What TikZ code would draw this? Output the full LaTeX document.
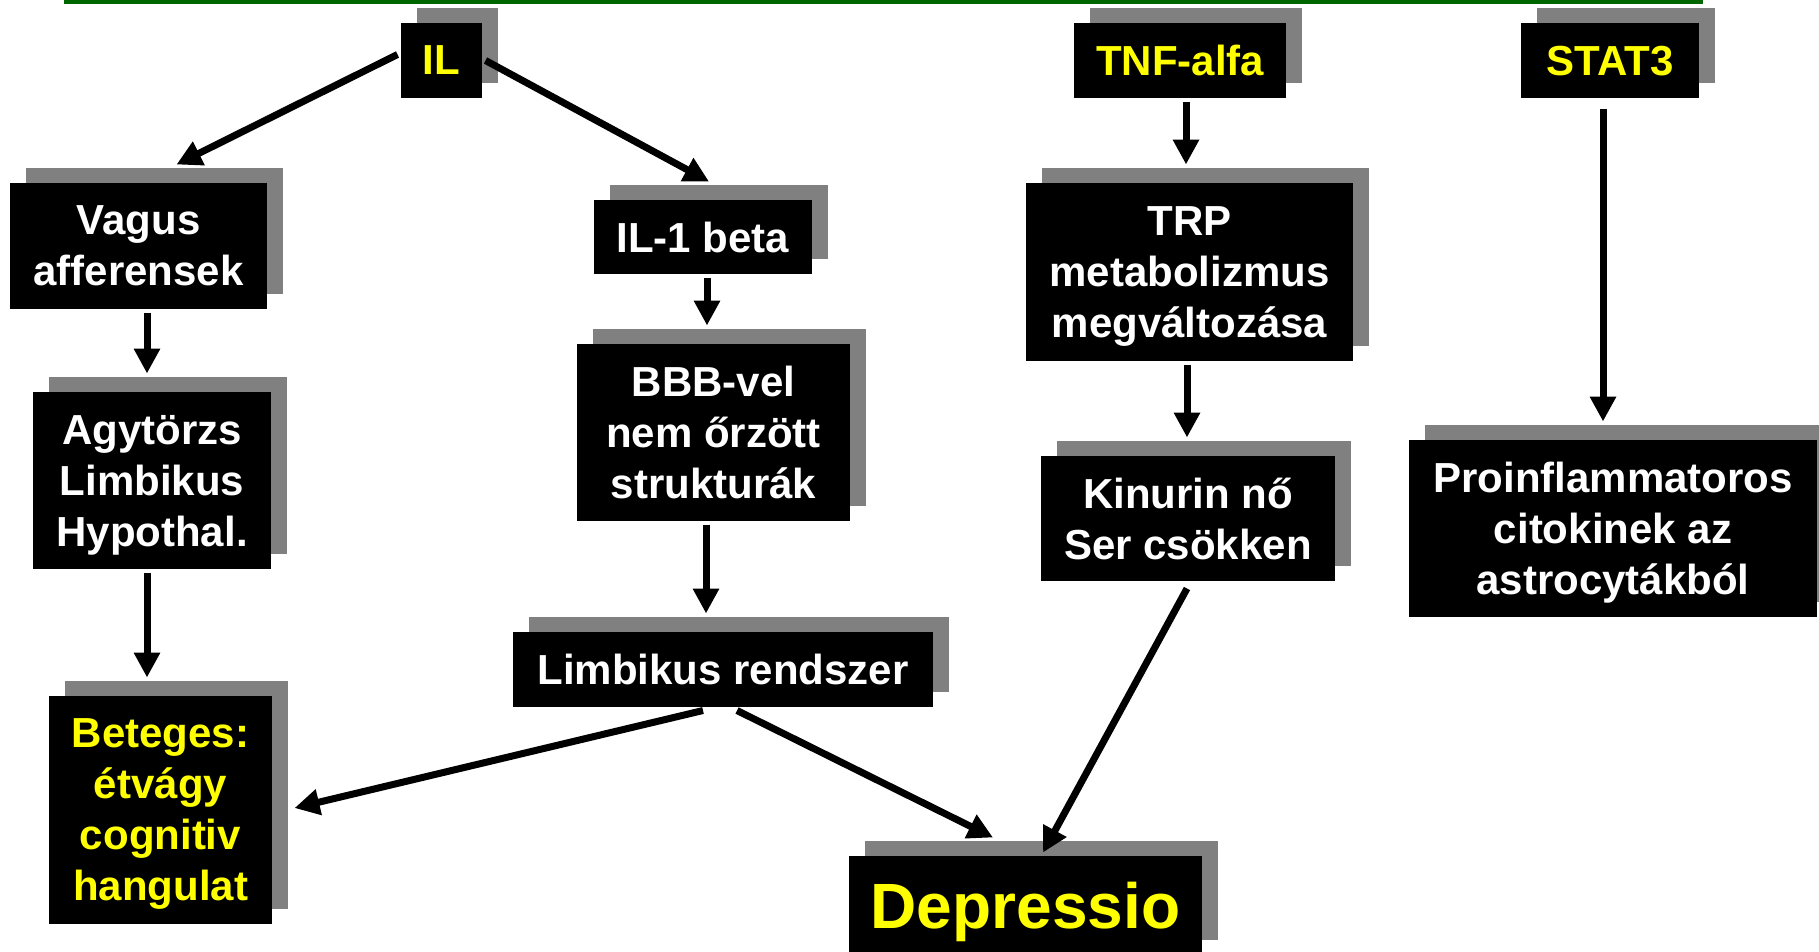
\documentclass[tikz,border=0pt]{standalone}
\usepackage{fontspec}
\setmainfont{Liberation Sans}
\usetikzlibrary{arrows.meta,shadows}
\definecolor{shade}{RGB}{128,128,128}
\definecolor{hilite}{RGB}{255,255,0}
\definecolor{leaf}{RGB}{0,102,0}

\begin{document}
\begin{tikzpicture}[x=1pt,y=-1pt,->,>={Triangle[length=25pt,width=25pt]},
                    line width=7pt]
  \tikzset{box/.style={fill=black,text=white,inner sep=0pt,align=center,text depth=0pt,
             font=\bfseries\fontsize{42}{51}\selectfont,
             drop shadow={shadow xshift=16pt,shadow yshift=15pt,fill=shade,opacity=1}},
           hot/.style={box,text=hilite}}

  \path[use as bounding box,fill=white] (0,0) rectangle (1819,951);
  \draw[-,line width=4.5pt,leaf] (64,2) -- (1703,2);

  \node[hot,minimum width=81pt,minimum height=75pt]   (il)   at (441.5,60.5) {IL};
  \node[hot,minimum width=212pt,minimum height=75pt]  (tnf)  at (1180,60.5)  {TNF-alfa};
  \node[hot,minimum width=178pt,minimum height=75pt]  (stat) at (1610,60.5)  {STAT3};
  \node[box,minimum width=257pt,minimum height=126pt] (vag)  at (138.5,246)  {Vagus\\afferensek};
  \node[box,minimum width=218pt,minimum height=74pt]  (ilb)  at (703,237)    {IL-1 beta};
  \node[box,minimum width=327pt,minimum height=178pt] (trp)  at (1189.5,272) {TRP\\metabolizmus\\megváltozása};
  \node[box,minimum width=238pt,minimum height=177pt] (agy)  at (152,480.5)  {Agytörzs\\Limbikus\\Hypothal.};
  \node[box,minimum width=273pt,minimum height=177pt] (bbb)  at (713.5,432.5) {BBB-vel\\nem őrzött\\strukturák};
  \node[box,minimum width=294pt,minimum height=125pt] (kin)  at (1188,518.5) {Kinurin nő\\Ser csökken};
  \node[box,minimum width=408pt,minimum height=177pt] (pro)  at (1613,528.5) {Proinflammatoros\\citokinek az\\astrocytákból};
  \node[box,minimum width=420pt,minimum height=75pt]  (lim)  at (723,669.5)  {Limbikus rendszer};
  \node[hot,minimum width=223pt,minimum height=228pt] (bet)  at (160.5,810)  {Beteges:\\étvágy\\cognitiv\\hangulat};
  \node[hot,minimum width=353pt,minimum height=99pt,
        font=\bfseries\fontsize{64}{72}\selectfont]   (dep)  at (1025.5,905.5) {Depressio};

  \path ([yshift=6pt]il.west)         edge ([xshift=38pt,yshift=15pt]vag.north)
        (il.east)                     edge ([xshift=6pt,yshift=15pt]ilb.north)
        ([xshift=8.5pt]vag.south)     edge ([xshift=-5pt,yshift=15pt]agy.north)
        ([xshift=-5pt]agy.south)      edge ([xshift=-13.5pt,yshift=15pt]bet.north)
        ([xshift=4pt]ilb.south)       edge ([xshift=-6.5pt,yshift=15pt]bbb.north)
        ([xshift=-7.5pt]bbb.south)    edge ([xshift=-17pt,yshift=15pt]lim.north)
        ([xshift=-20pt]lim.south)     edge ([xshift=19pt,yshift=2pt]bet.east)
        ([xshift=14pt]lim.south)      edge ([xshift=-32.5pt,yshift=15pt]dep.north)
        ([xshift=6pt]tnf.south)       edge ([xshift=-3.5pt,yshift=15pt]trp.north)
        ([xshift=-2.5pt]trp.south)    edge ([xshift=-1pt,yshift=15pt]kin.north)
        ([xshift=-1pt,yshift=-4pt]kin.south) edge ([xshift=17.5pt]dep.north)
        ([xshift=-7pt,yshift=-7pt]stat.south) edge ([xshift=-10pt,yshift=15pt]pro.north);
\end{tikzpicture}
\end{document}
